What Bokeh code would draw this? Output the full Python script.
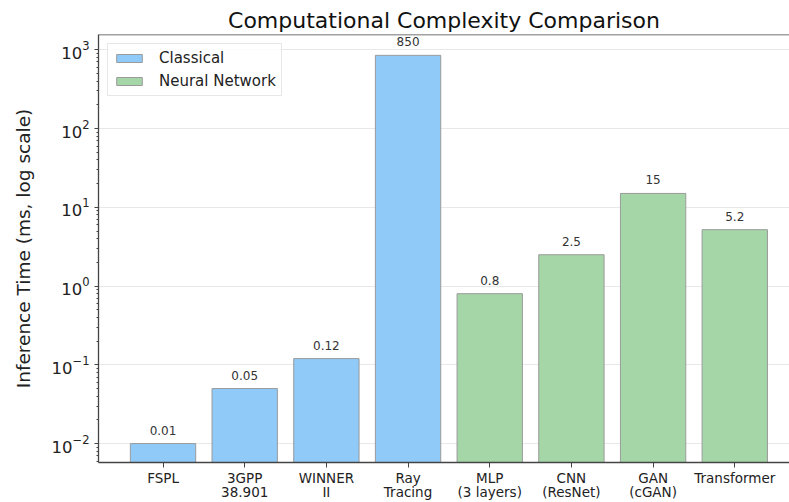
from bokeh.plotting import figure
from bokeh.models import (ColumnDataSource, Range1d, FixedTicker, LogTicker, Span,
                          Legend, LegendItem)
from bokeh.core.properties import value
from bokeh.embed import file_html
from bokeh.resources import INLINE

# ---- data ----
categories = ["FSPL", "3GPP\n38.901", "WINNER\nII", "Ray\nTracing",
              "MLP\n(3 layers)", "CNN\n(ResNet)", "GAN\n(cGAN)", "Transformer"]
times_ms = [0.01, 0.05, 0.12, 850, 0.8, 2.5, 15, 5.2]
value_labels = ["0.01", "0.05", "0.12", "850", "0.8", "2.5", "15", "5.2"]
groups = ["Classical", "Classical", "Classical", "Classical",
          "Neural Network", "Neural Network", "Neural Network", "Neural Network"]
group_colors = {"Classical": "#90CAF9", "Neural Network": "#A5D6A7"}

FONT = "DejaVu Sans"
y_lo, y_hi = 10 ** -2.24, 10 ** 3.194

xs = list(range(len(categories)))

p = figure(width=789, height=502, output_backend="svg", toolbar_location=None,
           x_range=Range1d(-0.79, 7.67), y_range=Range1d(y_lo, y_hi),
           y_axis_type="log", min_border_left=98, min_border_right=0,
           min_border_top=34, min_border_bottom=39,
           title="Computational Complexity Comparison")
p.outline_line_color = None
p.background_fill_color = "white"

items = []
for g in ["Classical", "Neural Network"]:
    idx = [i for i, gg in enumerate(groups) if gg == g]
    src = ColumnDataSource(dict(x=[xs[i] for i in idx],
                                top=[times_ms[i] for i in idx],
                                bottom=[1e-4 for i in idx]))
    r = p.vbar(x="x", top="top", bottom="bottom", width=0.8, source=src,
               fill_color=group_colors[g], line_color="#9a9a9a", line_width=1)
    items.append(LegendItem(label=g, renderers=[r]))

lab_src = ColumnDataSource(dict(x=xs, y=times_ms, t=value_labels))
p.text(x="x", y="y", text="t", source=lab_src, text_align="center",
       text_baseline="bottom", y_offset=-9, text_font=value(FONT),
       text_font_size="12px", text_color="#333333")

# top spine
p.add_layout(Span(location=y_hi, dimension="width", line_color="#444444", line_width=1.3))

# title
p.title.text_font = FONT
p.title.text_font_size = "22px"
p.title.text_font_style = "normal"
p.title.align = "center"
p.title.text_color = "#111111"
p.title.standoff = 4
p.title.offset = 0

# x axis
p.xaxis.ticker = FixedTicker(ticks=xs)
p.xaxis.major_label_overrides = {i: c for i, c in zip(xs, categories)}
p.xaxis.minor_tick_line_color = None
p.xaxis.major_tick_out = 5
p.xaxis.major_tick_in = 0
p.xaxis.major_label_standoff = 2
p.xaxis.major_label_text_font = FONT
p.xaxis.major_label_text_font_size = "13.5px"
p.xaxis.major_label_text_line_height = 0.9
p.xaxis.major_label_text_color = "#222222"
p.xaxis.axis_line_color = "#444444"
p.xaxis.axis_line_width = 1.3
p.xaxis.major_tick_line_color = "#444444"

# y axis
p.yaxis.ticker = LogTicker(num_minor_ticks=10)
p.yaxis.axis_label = "Inference Time (ms, log scale)"
p.yaxis.axis_label_text_font = FONT
p.yaxis.axis_label_text_font_size = "18.5px"
p.yaxis.axis_label_text_font_style = "normal"
p.yaxis.axis_label_text_color = "#222222"
p.yaxis.axis_label_standoff = 14
p.yaxis.major_label_text_font = FONT
p.yaxis.major_label_text_font_size = "16.5px"
p.yaxis.major_label_text_color = "#222222"
p.yaxis.major_tick_out = 4
p.yaxis.major_tick_in = 0
p.yaxis.minor_tick_out = 2
p.yaxis.minor_tick_in = 0
p.yaxis.axis_line_color = "#444444"
p.yaxis.axis_line_width = 1.3
p.yaxis.major_tick_line_color = "#444444"
p.yaxis.minor_tick_line_color = "#444444"

p.xgrid.visible = False
p.ygrid.grid_line_color = "#e8e8e8"
p.ygrid.grid_line_width = 1

legend = Legend(items=items, location="top_left")
legend.label_text_font = FONT
legend.label_text_font_size = "15px"
legend.label_text_color = "#222222"
legend.glyph_width = 32
legend.glyph_height = 10
legend.label_height = 18
legend.label_standoff = 14
legend.spacing = 5
legend.padding = 5
legend.margin = 9
legend.border_line_color = "#d0d0d0"
legend.border_line_width = 1
legend.background_fill_alpha = 0.85
p.add_layout(legend)

open("out.html", "w").write(file_html(p, INLINE))
